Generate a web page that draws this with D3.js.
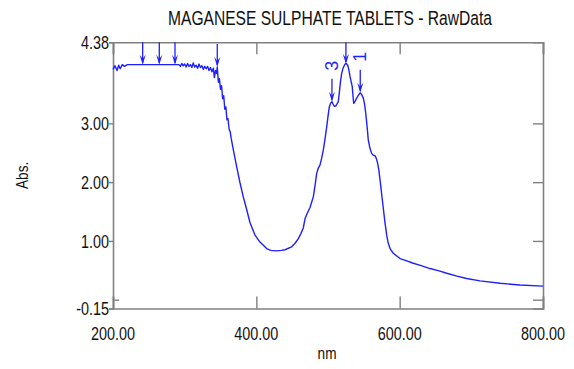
<!DOCTYPE html>
<html>
<head>
<meta charset="utf-8">
<script src="https://cdn.jsdelivr.net/npm/d3@7"></script>
<style>
  body { margin: 0; background: #fff; }
  text { font-family: "Liberation Sans", Arial, sans-serif; fill: #111; }
</style>
</head>
<body>
<div id="chart"></div>
<script>
// spectrum (nm / Abs)
const wavelength = [200, 202.8, 205.6, 208, 210, 213, 216, 220, 230, 241.4, 250, 265, 275, 286.5, 292, 294, 296, 298, 300, 302, 304, 306, 308, 310, 312, 314, 316, 318, 320, 322, 324, 326, 328, 330, 332, 334, 336, 338, 340, 341.5, 343, 344.5, 345.5, 347, 348.5, 350, 351.5, 353, 354.5, 356, 357.5, 359, 360.5, 362, 363.5, 365, 367.9, 372.6, 377.2, 381.8, 386.6, 391.2, 398.1, 405.1, 414.5, 420, 428.4, 435, 440, 449.3, 454, 458.6, 462, 465.5, 468, 470.3, 474.9, 479.5, 482, 484.2, 486.5, 488.8, 491, 493.5, 496, 498.2, 500, 501.8, 503.5, 505.5, 507, 509, 511, 513, 514.4, 516, 517.5, 519.1, 521, 523.7, 525.5, 527.5, 529, 530.7, 532.3, 533.9, 535, 535.9, 538, 540, 542.5, 544.7, 547, 549.3, 551, 552.6, 554.5, 556.2, 558.5, 560.9, 563, 565.6, 567.5, 569.3, 571, 572.6, 575.8, 579.5, 582, 584.1, 587, 591.1, 600.5, 610, 619, 630, 642.3, 655, 665.6, 680, 693.5, 712.1, 740, 767.9, 800];
const absorbance = [3.92, 3.98, 3.90, 3.99, 3.93, 4.00, 3.97, 4.00, 4.00, 4.00, 4.00, 4.00, 4.00, 4.00, 4.00, 3.97, 4.02, 3.98, 4.01, 3.96, 4.02, 3.97, 4.00, 3.95, 4.03, 3.96, 3.99, 3.94, 4.01, 3.95, 3.98, 3.92, 3.97, 3.93, 3.97, 3.90, 3.95, 3.88, 3.94, 3.78, 3.90, 3.85, 3.96, 3.70, 3.76, 3.58, 3.64, 3.42, 3.47, 3.24, 3.28, 3.06, 3.08, 2.90, 2.86, 2.74, 2.55, 2.26, 1.99, 1.75, 1.53, 1.31, 1.10, 0.98, 0.87, 0.84, 0.83, 0.84, 0.85, 0.90, 0.96, 1.04, 1.12, 1.22, 1.38, 1.45, 1.57, 1.75, 1.95, 2.15, 2.24, 2.29, 2.40, 2.55, 2.75, 2.94, 3.12, 3.28, 3.34, 3.37, 3.33, 3.29, 3.30, 3.34, 3.37, 3.55, 3.72, 3.85, 3.94, 4.01, 4.02, 3.99, 3.92, 3.80, 3.71, 3.62, 3.45, 3.34, 3.38, 3.43, 3.48, 3.52, 3.49, 3.43, 3.33, 3.18, 2.95, 2.72, 2.58, 2.49, 2.46, 2.45, 2.40, 2.32, 2.20, 2.04, 1.70, 1.31, 1.09, 0.96, 0.86, 0.79, 0.70, 0.66, 0.62, 0.58, 0.53, 0.49, 0.45, 0.40, 0.36, 0.32, 0.28, 0.25, 0.23];

// peak / valley markers
const markNm = [241.4, 264.6, 286.5, 345.5, 505.5, 525, 545];
const markAbs = [4.00, 4.00, 4.00, 3.96, 3.37, 4.01, 3.52];
const markLabel = ['', '', '', '', '3', '', '1'];

const xTicks = [200, 400, 600, 800];
const yTicks = [-0.15, 1, 2, 3, 4.38];
const yInnerTicks = [0, 1, 2, 3];

const title = 'MAGANESE SULPHATE TABLETS - RawData';

function draw () {
  const svgWidth = 574;
  const svgHeight = 369;
  const margin = { top: 42.3, right: 31, bottom: 60.5, left: 113 };
  const width = svgWidth - margin.left - margin.right;
  const height = svgHeight - margin.top - margin.bottom;
  const axisColor = '#808080';
  const lineColor = '#1f1fff';
  const sx = 0.8; // glyphs in the picture are narrow

  const svg = d3.select('#chart')
    .append('svg')
    .attr('width', svgWidth)
    .attr('height', svgHeight);

  const g = svg.append('g')
    .attr('transform', `translate(${margin.left},${margin.top})`);

  const x = d3.scaleLinear().domain([200, 800]).range([0, width]);
  const y = d3.scaleLinear().domain([-0.15, 4.38]).range([height, 0]);

  function label (px, py, txt, size, anchor, rot) {
    svg.append('text')
      .attr('transform', `translate(${px},${py})` + (rot ? ` rotate(${rot})` : '') + ` scale(${sx},1)`)
      .attr('text-anchor', anchor)
      .attr('font-size', size)
      .text(txt);
  }

  // title + axis titles
  label(margin.left + width / 2 + 2, 25, title, 19.5, 'middle');
  label(28, margin.top + height / 2, 'Abs.', 17, 'middle', -90);
  label(margin.left + width / 2 - 1, 359, 'nm', 17, 'middle');

  // axes
  const bottom = g.append('g')
    .attr('transform', `translate(0,${height})`)
    .call(d3.axisBottom(x).tickValues(xTicks).tickSize(-12).tickFormat(''));
  const top = g.append('g')
    .call(d3.axisTop(x).tickValues(xTicks).tickSize(-12).tickFormat(''));
  const left = g.append('g')
    .call(d3.axisLeft(y).tickValues(yTicks).tickSize(4).tickFormat(''));
  const leftIn = g.append('g')
    .call(d3.axisLeft(y).tickValues([0]).tickSize(-6).tickFormat(''));
  const right = g.append('g')
    .attr('transform', `translate(${width},0)`)
    .call(d3.axisRight(y).tickValues(yInnerTicks).tickSize(-10).tickFormat(''));

  [bottom, top, left, leftIn, right].forEach(a => {
    a.select('.domain').attr('stroke', axisColor).attr('stroke-width', 1.6);
    a.selectAll('.tick line').attr('stroke', axisColor).attr('stroke-width', 1.4);
  });
  leftIn.select('.domain').remove();

  xTicks.forEach(v => label(margin.left + x(v), 340, v.toFixed(2), 18, 'middle'));
  yTicks.forEach(v => label(margin.left - 4, margin.top + y(v) + 6.6, v.toFixed(2), 18, 'end'));

  // spectrum
  const pts = wavelength.map((w, i) => [w, absorbance[i]]);
  const line = d3.line()
    .x(d => x(d[0]))
    .y(d => y(d[1]));

  g.append('path')
    .datum(pts)
    .attr('fill', 'none')
    .attr('stroke', lineColor)
    .attr('stroke-width', 1.4)
    .attr('stroke-linejoin', 'round')
    .attr('d', line);

  // markers
  markNm.forEach((w, i) => {
    const tx = x(w);
    const ty = y(markAbs[i]);
    const sy = Math.max(0, ty - 23);
    g.append('line')
      .attr('x1', tx).attr('x2', tx)
      .attr('y1', sy).attr('y2', ty - 2)
      .attr('stroke', lineColor)
      .attr('stroke-width', 1.3);
    g.append('path')
      .attr('d', `M${tx - 3},${ty - 10}L${tx},${ty}L${tx + 3},${ty - 10}L${tx},${ty - 6}Z`)
      .attr('fill', lineColor);
    if (markLabel[i]) {
      g.append('text')
        .attr('transform', `translate(${tx + 6},${sy - 13}) rotate(-90)`)
        .attr('text-anchor', 'middle')
        .attr('font-size', 18)
        .style('fill', lineColor)
        .text(markLabel[i]);
    }
  });
}
draw();
</script>
</body>
</html>
